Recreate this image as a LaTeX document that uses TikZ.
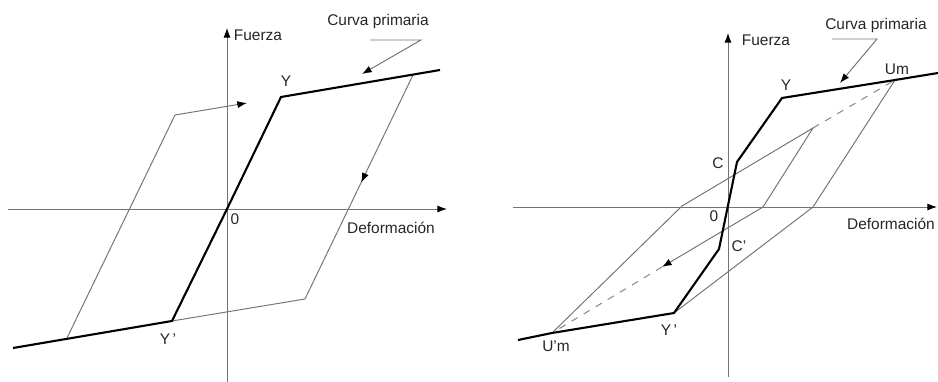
\documentclass[tikz,border=0pt]{standalone}
\usepackage{fontspec}
\setmainfont{Liberation Sans}
\usetikzlibrary{arrows.meta,decorations.markings}

\begin{document}
\begin{tikzpicture}[
        x=0.02cm, y=-0.02cm,
        every node/.style={font=\fontsize{8.8}{10}\selectfont, text=black!85, inner sep=1pt},
        axis/.style={draw=black!55, line width=0.5pt, -{Latex[length=5.5pt,width=4pt,color=black]}},
        primary/.style={draw=black, line width=1.2pt, line join=miter},
        loop/.style={draw=black!55, line width=0.55pt},
        tip/.style={-{Latex[length=5.5pt,width=4pt,color=black]}},
        dashline/.style={draw=black!45, line width=0.6pt, dash pattern=on 4pt off 4pt},
        midarrow/.style={postaction={decorate}, decoration={markings,
            mark=at position #1 with {\arrow{Latex[length=5.5pt,width=4pt,color=black]}}}}
    ]
    \useasboundingbox (0,0) rectangle (938,382);

    % ---------------- Left diagram ----------------
    % Axes
    \coordinate (xl1) at (8,209);
    \coordinate (xr1) at (447,209);
    \coordinate (yb1) at (227,382);
    \coordinate (yt1) at (227,28);
    \draw[axis] (xl1) -- (xr1);
    \draw[axis] (yb1) -- (yt1);

    % Points
    \coordinate (o1) at (227,209);
    \coordinate (y1) at (281,97);
    \coordinate (yp1) at (172,321);
    \coordinate (pend1) at (440,70);
    \coordinate (pstart1) at (13,348);
    \coordinate (ua1) at (413,75);
    \coordinate (ub1) at (305,299);
    \coordinate (ud1) at (67,338);
    \coordinate (ue1) at (175,115);
    \coordinate (uf1) at (247,103);

    % Hysteresis loop
    \draw[loop, midarrow=0.48] (ua1) -- (ub1);
    \draw[loop] (ub1) -- (yp1);
    \draw[loop] (ud1) -- (ue1);
    \draw[loop, tip] (ue1) -- (uf1);

    % Primary curve
    \draw[primary] (pstart1) -- (yp1) -- (o1) -- (y1) -- (pend1);

    % Labels
    \node (fuerza1) at (258,35) {Fuerza};
    \node (def1) at (391,228) {Deformación};
    \node (lo1) at (235,219) {0};
    \node (ly1) at (286,81) {Y};
    \node (lyp1) at (168,339) {Y\,'};
    \node (cp1) at (378,22) {Curva primaria};
    \coordinate (la1) at (370,40);
    \coordinate (lb1) at (421,40);
    \coordinate (lc1) at (362,74);
    \draw[loop, tip] (la1) -- (lb1) -- (lc1);

    % ---------------- Right diagram ----------------
    % Axes
    \coordinate (xl2) at (513,207);
    \coordinate (xr2) at (937,207);
    \coordinate (yb2) at (728,377);
    \coordinate (yt2) at (728,33);
    \draw[axis] (xl2) -- (xr2);
    \draw[axis] (yb2) -- (yt2);

    % Points
    \coordinate (o2) at (728,207);
    \coordinate (pstart2) at (518,340);
    \coordinate (upm2) at (552,333);
    \coordinate (yp2) at (674,313);
    \coordinate (cp2) at (719,249);
    \coordinate (c2) at (737,162);
    \coordinate (y2) at (782,98);
    \coordinate (um2) at (895,80);
    \coordinate (pend2) at (938,73);
    \coordinate (ra2) at (813,207);
    \coordinate (ia2) at (682,206);
    \coordinate (ib2) at (813,128);
    \coordinate (ic2) at (763,207);
    \coordinate (id2) at (662,267);

    % Loops
    \draw[loop] (um2) -- (ra2) -- (yp2);
    \draw[loop] (upm2) -- (ia2) -- (ib2) -- (ic2);
    \draw[loop, tip] (ic2) -- (id2);
    \draw[dashline] (ib2) -- (um2);
    \draw[dashline] (id2) -- (upm2);

    % Primary curve
    \draw[primary] (pstart2) -- (upm2) -- (yp2) -- (cp2) -- (c2) -- (y2) -- (um2) -- (pend2);

    % Labels
    \node (fuerza2) at (766,40) {Fuerza};
    \node (def2) at (891,224) {Deformación};
    \node (lo2) at (714,216) {0};
    \node (ly2) at (786,85) {Y};
    \node (lum2) at (897,69) {Um};
    \node (lc2) at (718,163) {C};
    \node (lcp2) at (739,246) {C'};
    \node (lyp2) at (669,330) {Y\,'};
    \node (lupm2) at (556,346) {U'm};
    \node (cpr2) at (876,26) {Curva primaria};
    \coordinate (la2) at (832,39);
    \coordinate (lb2) at (877,39);
    \coordinate (lc2b) at (840,83);
    \draw[loop, tip] (la2) -- (lb2) -- (lc2b);

\end{tikzpicture}
\end{document}
